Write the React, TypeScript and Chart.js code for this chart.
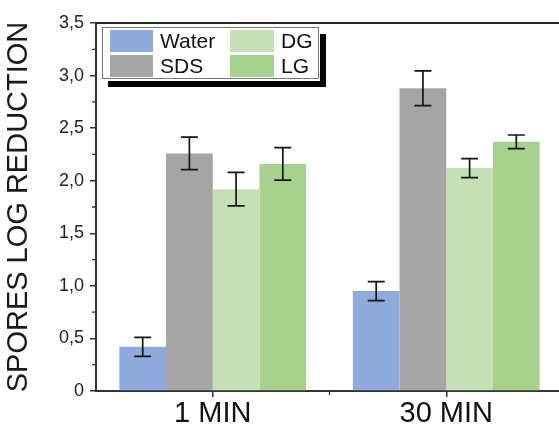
import React, { useEffect, useRef } from 'react';
import { Chart, registerables } from 'chart.js';

Chart.register(...registerables);

const categories = ['1 MIN', '30 MIN'];
const seriesNames = ['Water', 'SDS', 'DG', 'LG'];
const waterValues = [0.42, 0.95];
const sdsValues = [2.26, 2.88];
const dgValues = [1.92, 2.12];
const lgValues = [2.16, 2.37];
const waterErrors = [0.09, 0.09];
const sdsErrors = [0.155, 0.165];
const dgErrors = [0.16, 0.09];
const lgErrors = [0.155, 0.065];
const yMin = 0;
const yMax = 3.5;
const yStep = 0.5;
const yTitle = 'SPORES LOG REDUCTION';
const seriesColors = ['#8FAADC', '#A5A5A5', '#C5E0B4', '#A9D18E'];

const FONT = '"Liberation Sans", Arial, sans-serif';
const CANVAS_W = 580;
const CANVAS_H = 429;

const allValues = [waterValues, sdsValues, dgValues, lgValues];
const allErrors = [waterErrors, sdsErrors, dgErrors, lgErrors];

const errorBarsPlugin = {
  id: 'errorBars',
  afterDatasetsDraw(chart: any) {
    const ctx = chart.ctx;
    const yScale = chart.scales.y;
    ctx.save();
    ctx.strokeStyle = '#151515';
    ctx.lineWidth = 1.7;
    chart.data.datasets.forEach((ds: any, i: number) => {
      const meta = chart.getDatasetMeta(i);
      meta.data.forEach((bar: any, j: number) => {
        const v = ds.data[j];
        const e = ds.errors[j];
        const x = bar.x;
        const yt = yScale.getPixelForValue(v + e);
        const yb = yScale.getPixelForValue(v - e);
        const cap = 8.5;
        ctx.beginPath();
        ctx.moveTo(x, yt);
        ctx.lineTo(x, yb);
        ctx.moveTo(x - cap, yt);
        ctx.lineTo(x + cap, yt);
        ctx.moveTo(x - cap, yb);
        ctx.lineTo(x + cap, yb);
        ctx.stroke();
      });
    });
    ctx.restore();
  },
};

const framePlugin = {
  id: 'frame',
  afterDraw(chart: any) {
    const ctx = chart.ctx;
    const { left, right, top, bottom } = chart.chartArea;
    const yScale = chart.scales.y;
    const xScale = chart.scales.x;
    ctx.save();
    ctx.strokeStyle = '#2a2a2a';
    ctx.lineWidth = 2.2;
    ctx.beginPath();
    ctx.moveTo(left, top);
    ctx.lineTo(right, top);
    ctx.stroke();
    // minor y ticks
    ctx.strokeStyle = '#333';
    ctx.lineWidth = 1.3;
    ctx.beginPath();
    for (let v = yMin + yStep / 2; v < yMax; v += yStep) {
      const y = yScale.getPixelForValue(v);
      ctx.moveTo(left, y);
      ctx.lineTo(left - 4, y);
    }
    // minor x ticks between categories
    for (let i = 0; i < categories.length - 1; i++) {
      const x = (xScale.getPixelForTick(i) + xScale.getPixelForTick(i + 1)) / 2;
      ctx.moveTo(x, bottom);
      ctx.lineTo(x, bottom + 4);
    }
    ctx.stroke();
    ctx.restore();
  },
};

const boxLegendPlugin = {
  id: 'boxLegend',
  afterDraw(chart: any) {
    const ctx = chart.ctx;
    const bx = 102;
    const by = 27;
    const bw = 217;
    const bh = 52;
    ctx.save();
    ctx.fillStyle = '#000';
    ctx.fillRect(bx + 6, by + 7, bw + 1, bh + 1);
    ctx.fillStyle = '#fff';
    ctx.fillRect(bx, by, bw + 1, bh + 2);
    ctx.strokeStyle = '#777';
    ctx.lineWidth = 1;
    ctx.strokeRect(bx + 0.5, by + 0.5, bw - 1, bh - 1);
    const cols = [
      { sx: 110, sw: 43, tx: 160 },
      { sx: 230, sw: 44, tx: 281 },
    ];
    const rows = [{ sy: 30, sh: 22 }, { sy: 55, sh: 22 }];
    ctx.font = `21px ${FONT}`;
    ctx.textBaseline = 'middle';
    ctx.textAlign = 'left';
    chart.data.datasets.forEach((ds: any, i: number) => {
      const c = cols[Math.floor(i / 2)];
      const r = rows[i % 2];
      ctx.fillStyle = ds.backgroundColor;
      ctx.fillRect(c.sx, r.sy, c.sw, r.sh);
      ctx.fillStyle = '#111';
      ctx.fillText(ds.label, c.tx, r.sy + r.sh / 2 + 1);
    });
    ctx.restore();
  },
};

function formatTick(v: number): string {
  if (v === 0) return '0';
  return v.toFixed(1).replace('.', ',');
}

export default function App() {
  const canvasRef = useRef<HTMLCanvasElement | null>(null);

  useEffect(() => {
    const canvas = canvasRef.current;
    if (!canvas) return;
    const chart = new Chart(canvas, {
      type: 'bar',
      data: {
        labels: categories,
        datasets: seriesNames.map((name, i) => ({
          label: name,
          data: allValues[i],
          errors: allErrors[i],
          backgroundColor: seriesColors[i],
          borderWidth: 0,
          barPercentage: 1.0,
          categoryPercentage: 0.8,
        })) as any,
      },
      options: {
        responsive: false,
        animation: false,
        devicePixelRatio: 1,
        layout: { padding: { top: 23, right: CANVAS_W - 563, left: 0, bottom: 0 } },
        plugins: {
          legend: { display: false },
          tooltip: { enabled: false },
          title: { display: false },
        },
        scales: {
          x: {
            type: 'category',
            offset: true,
            grid: {
              offset: false,
              drawOnChartArea: false,
              drawTicks: true,
              tickLength: 6,
              color: '#333',
              lineWidth: 1.5,
            },
            border: { display: true, color: '#333', width: 2 },
            ticks: {
              font: { size: 29, family: FONT },
              color: '#111',
              padding: 0,
              maxRotation: 0,
              autoSkip: false,
            },
            afterFit: (s: any) => {
              s.height = 38;
            },
          },
          y: {
            min: yMin,
            max: yMax,
            ticks: {
              stepSize: yStep,
              font: { size: 18, family: FONT },
              color: '#222',
              padding: 6,
              callback: (v: any) => formatTick(Number(v)),
            },
            grid: {
              drawOnChartArea: false,
              drawTicks: true,
              tickLength: 6,
              color: '#333',
              lineWidth: 1.5,
            },
            border: { display: true, color: '#333', width: 2 },
            title: {
              display: true,
              text: yTitle,
              font: { size: 29, family: FONT },
              color: '#1a1a1a',
              padding: { top: 2, bottom: 0 },
            },
            afterFit: (s: any) => {
              s.width = 96;
            },
          },
        },
      } as any,
      plugins: [errorBarsPlugin, framePlugin, boxLegendPlugin],
    });
    return () => {
      chart.destroy();
    };
  }, []);

  return (
    <div
      style={{
        position: 'fixed',
        left: 0,
        top: 0,
        width: 559,
        height: 429,
        overflow: 'hidden',
        background: '#fff',
      }}
    >
      <canvas
        ref={canvasRef}
        width={CANVAS_W}
        height={CANVAS_H}
        style={{ position: 'absolute', left: 0, top: 0, width: CANVAS_W, height: CANVAS_H }}
      />
    </div>
  );
}
